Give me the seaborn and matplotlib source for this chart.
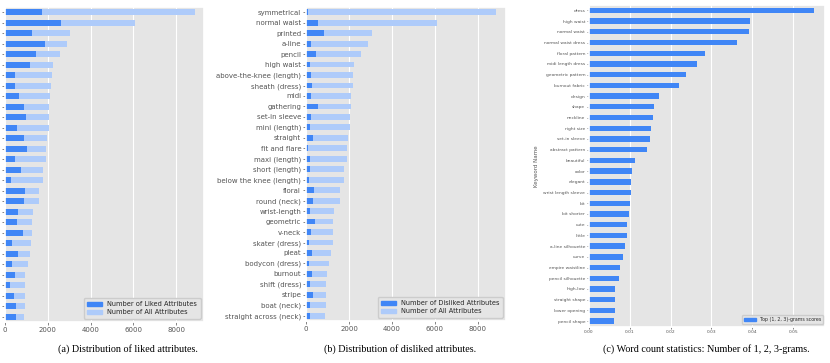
import matplotlib
matplotlib.use('Agg')
import matplotlib.pyplot as plt
import matplotlib.patches as mpatches
import seaborn as sns

# attribute names shared by panels (a) and (b), sorted by total count
attributes = [
    "symmetrical", "normal waist", "printed", "a-line", "pencil", "high waist",
    "above-the-knee (length)", "sheath (dress)", "midi", "gathering",
    "set-in sleeve", "mini (length)", "straight", "fit and flare", "maxi (length)",
    "short (length)", "below the knee (length)", "floral", "round (neck)",
    "wrist-length", "geometric", "v-neck", "skater (dress)", "pleat",
    "bodycon (dress)", "burnout", "shift (dress)", "stripe", "boat (neck)",
    "straight across (neck)",
]
all_counts = [8860, 6090, 3060, 2890, 2550, 2240, 2190, 2165, 2095, 2080,
              2045, 2045, 1960, 1895, 1895, 1755, 1755, 1590, 1590, 1310,
              1260, 1240, 1235, 1155, 1060, 955, 940, 940, 925, 890]
liked_counts = [1740, 2620, 1270, 1860, 1460, 1180, 470, 470, 650, 900,
                960, 560, 900, 1040, 480, 760, 300, 950, 870, 620,
                560, 850, 340, 620, 340, 480, 215, 430, 530, 530]
disliked_counts = [110, 540, 840, 250, 460, 170, 220, 260, 220, 540,
                   230, 170, 310, 80, 190, 190, 140, 390, 330, 190,
                   430, 220, 140, 290, 140, 260, 170, 330, 190, 190]

# panel (c): top n-gram keywords
keywords = [
    "dress", "high waist", "normal waist", "normal waist dress", "floral pattern",
    "midi length dress", "geometric pattern", "burnout fabric", "design", "shape",
    "neckline", "right size", "set-in sleeve", "abstract pattern", "beautiful",
    "color", "elegant", "wrist length sleeve", "bit", "bit shorter", "cute",
    "little", "a-line silhouette", "curve", "empire waistline", "pencil silhouette",
    "high-low", "straight shape", "lower opening", "pencil shape",
]
keyword_scores = [0.0550, 0.0393, 0.0391, 0.0362, 0.0285, 0.0265, 0.0237, 0.0220,
                  0.0173, 0.0159, 0.0156, 0.0153, 0.0150, 0.0142, 0.0114,
                  0.0107, 0.0103, 0.0103, 0.0100, 0.0098, 0.0094, 0.0094,
                  0.0089, 0.0083, 0.0076, 0.0074, 0.0064, 0.0064, 0.0064, 0.0063]

DARK = '#4086f6'
LIGHT = '#aecbfa'

sns.set_theme(style='darkgrid', rc={
    'axes.facecolor': '#e5e5e5',
    'grid.color': 'white',
    'grid.linewidth': 0.8,
    'xtick.bottom': True,
    'ytick.left': True,
    'xtick.color': '#555555',
    'ytick.color': '#555555',
    'xtick.major.size': 2,
    'ytick.major.size': 2,
    'xtick.major.width': 0.5,
    'ytick.major.width': 0.5,
    'axes.edgecolor': 'white',
})
plt.rcParams['font.family'] = ['DejaVu Sans']

fig = plt.figure(figsize=(8.3, 3.63), dpi=100)
ax_a = fig.add_axes([5 / 830, 41 / 363, 199 / 830, 315 / 363])
ax_b = fig.add_axes([306 / 830, 42 / 363, 200 / 830, 314 / 363])
ax_c = fig.add_axes([588.7 / 830, 36.5 / 363, 236.3 / 830, 321.5 / 363])

bar_kw = dict(orient='h', saturation=1, linewidth=0, edgecolor='none')


def paired_bars(ax, part, part_label):
    sns.barplot(x=all_counts, y=attributes, color=LIGHT, width=0.55, ax=ax,
                **bar_kw)
    sns.barplot(x=part, y=attributes, color=DARK, width=0.55, ax=ax, **bar_kw)
    ax.set_xlim(0, max(all_counts) * 1.05)
    ax.set_xticks([0, 2000, 4000, 6000, 8000])
    ax.tick_params(axis='both', labelsize=5, pad=1.5, colors='#555555')
    ax.set_xlabel('')
    ax.set_ylabel('')
    handles = [mpatches.Patch(color=DARK, label=part_label),
               mpatches.Patch(color=LIGHT, label='Number of All Attributes')]
    ax.legend(handles=handles, loc='lower right', fontsize=4.8, frameon=True,
              facecolor='#e5e5e5', edgecolor='#cccccc', handlelength=2.2,
              borderpad=0.5, labelspacing=0.3, framealpha=1)


paired_bars(ax_a, liked_counts, 'Number of Liked Attributes')
paired_bars(ax_b, disliked_counts, 'Number of Disliked Attributes')
# the left panel is cropped in the source: its category names fall off the page
ax_a.set_yticklabels([])

sns.barplot(x=keyword_scores, y=keywords, color=DARK, width=0.5, ax=ax_c,
            **bar_kw)
ax_c.set_xlim(0, max(keyword_scores) * 1.05)
ax_c.set_xticks([0.0, 0.01, 0.02, 0.03, 0.04, 0.05])
ax_c.set_xticklabels(['0.00', '0.01', '0.02', '0.03', '0.04', '0.05'])
ax_c.tick_params(axis='both', labelsize=3.2, pad=1, colors='#555555',
                 length=1.5)
ax_c.set_xlabel('')
ax_c.set_ylabel('Keyword Name', fontsize=4, color='#555555', labelpad=3)
ax_c.legend(handles=[mpatches.Patch(color=DARK,
                                    label='Top (1, 2, 3)-grams scores')],
            loc='lower right', fontsize=3.4, frameon=True, facecolor='#e5e5e5',
            edgecolor='#cccccc', framealpha=1, handlelength=2.5)

caption_font = dict(fontsize=7.3, family='Liberation Serif', ha='center',
                    va='center', color='black')
fig.text(128 / 830, 1 - 349 / 363, '(a) Distribution of liked attributes.',
         **caption_font)
fig.text(400 / 830, 1 - 349 / 363, '(b) Distribution of disliked attributes.',
         **caption_font)
fig.text(706 / 830, 1 - 349 / 363,
         '(c) Word count statistics: Number of 1, 2, 3-grams.', **caption_font)

fig.savefig('out.png', dpi=100)
plt.close(fig)
